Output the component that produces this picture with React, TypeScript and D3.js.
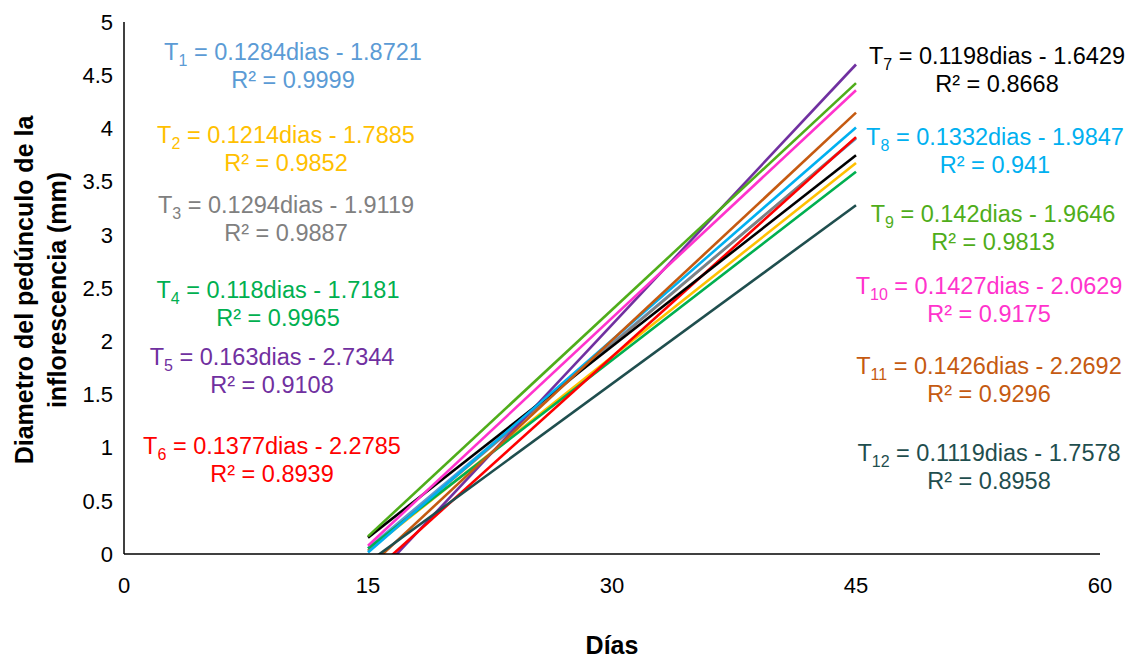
import React from "react";
import * as d3 from "d3";

// Linear fits of peduncle diameter (mm) against days, one per treatment
const treatments = ["1", "2", "3", "4", "5", "6", "7", "8", "9", "10", "11", "12"];
const slopes = [0.1284, 0.1214, 0.1294, 0.118, 0.163, 0.1377, 0.1198, 0.1332, 0.142, 0.1427, 0.1426, 0.1119];
const intercepts = [-1.8721, -1.7885, -1.9119, -1.7181, -2.7344, -2.2785, -1.6429, -1.9847, -1.9646, -2.0629, -2.2692, -1.7578];
const slopeLabels = ["0.1284", "0.1214", "0.1294", "0.118", "0.163", "0.1377", "0.1198", "0.1332", "0.142", "0.1427", "0.1426", "0.1119"];
const interceptLabels = ["1.8721", "1.7885", "1.9119", "1.7181", "2.7344", "2.2785", "1.6429", "1.9847", "1.9646", "2.0629", "2.2692", "1.7578"];
const rSquared = ["0.9999", "0.9852", "0.9887", "0.9965", "0.9108", "0.8939", "0.8668", "0.941", "0.9813", "0.9175", "0.9296", "0.8958"];
const colors = ["#5B9BD5", "#FFC000", "#808080", "#00B050", "#7030A0", "#FF0000", "#000000", "#00B0F0", "#4FAD1A", "#FF33CC", "#C55A11", "#1F4E4E"];
const dayRange = [15, 45];

const xTicks = [0, 15, 30, 45, 60];
const yTicks = [0, 0.5, 1, 1.5, 2, 2.5, 3, 3.5, 4, 4.5, 5];

// Placement of each equation label: [centre x, first line baseline y]
const labelPos: [number, number][] = [
  [293, 60], [286, 143], [286, 213], [278, 298], [272, 365], [272, 454],
  [997, 64], [995, 145], [993, 222], [989, 294], [989, 374], [989, 461],
];

const W = 1129;
const H = 659;
const left = 124;
const right = 1100;
const top = 22;
const bottom = 554;
const font = "'Liberation Sans', Arial, sans-serif";

export default function App() {
  const x = d3.scaleLinear().domain([0, 60]).range([left, right]);
  const y = d3.scaleLinear().domain([0, 5]).range([bottom, top]);
  const line = d3.line<number>().x((d) => x(d));

  return (
    <svg
      width={W}
      height={H}
      style={{ position: "absolute", left: 0, top: 0, background: "#fff" }}
      fontFamily={font}
    >
      <defs>
        <clipPath id="plot">
          <rect x={left} y={top - 10} width={right - left} height={bottom - top + 10} />
        </clipPath>
      </defs>

      <g clipPath="url(#plot)">
        {treatments.map((t, i) => {
          const path = line.y((d) => y(slopes[i] * d + intercepts[i]))(dayRange) as string;
          return <path key={t} d={path} fill="none" stroke={colors[i]} strokeWidth={2.6} />;
        })}
      </g>

      {/* axes */}
      <line x1={left} x2={left} y1={top} y2={bottom} stroke="#000" strokeWidth={1.5} />
      <line x1={left} x2={right} y1={bottom} y2={bottom} stroke="#000" strokeWidth={1.5} />

      {yTicks.map((v) => (
        <text key={v} x={left - 11} y={y(v)} dy="0.35em" textAnchor="end" fontSize={22} fill="#000">
          {v}
        </text>
      ))}
      {xTicks.map((v) => (
        <text key={v} x={x(v)} y={593} textAnchor="middle" fontSize={22} fill="#000">
          {v}
        </text>
      ))}

      <text x={612} y={654} textAnchor="middle" fontSize={25} fontWeight="bold" fill="#000">
        Días
      </text>
      <g transform="translate(24,290) rotate(-90)">
        <text x={0} y={0} dy="0.35em" textAnchor="middle" fontSize={25} fontWeight="bold" fill="#000">
          Diametro del pedúnculo de la
        </text>
        <text x={0} y={33} dy="0.35em" textAnchor="middle" fontSize={25} fontWeight="bold" fill="#000">
          inflorescencia (mm)
        </text>
      </g>

      {treatments.map((t, i) => {
        const [cx, cy] = labelPos[i];
        return (
          <g key={t} fill={colors[i]} fontSize={23.5}>
            <text x={cx} y={cy} textAnchor="middle">
              T
              <tspan fontSize={16} dy={6}>{t}</tspan>
              <tspan dy={-6}>{` = ${slopeLabels[i]}dias - ${interceptLabels[i]}`}</tspan>
            </text>
            <text x={cx} y={cy + 28} textAnchor="middle">
              {`R² = ${rSquared[i]}`}
            </text>
          </g>
        );
      })}
    </svg>
  );
}
